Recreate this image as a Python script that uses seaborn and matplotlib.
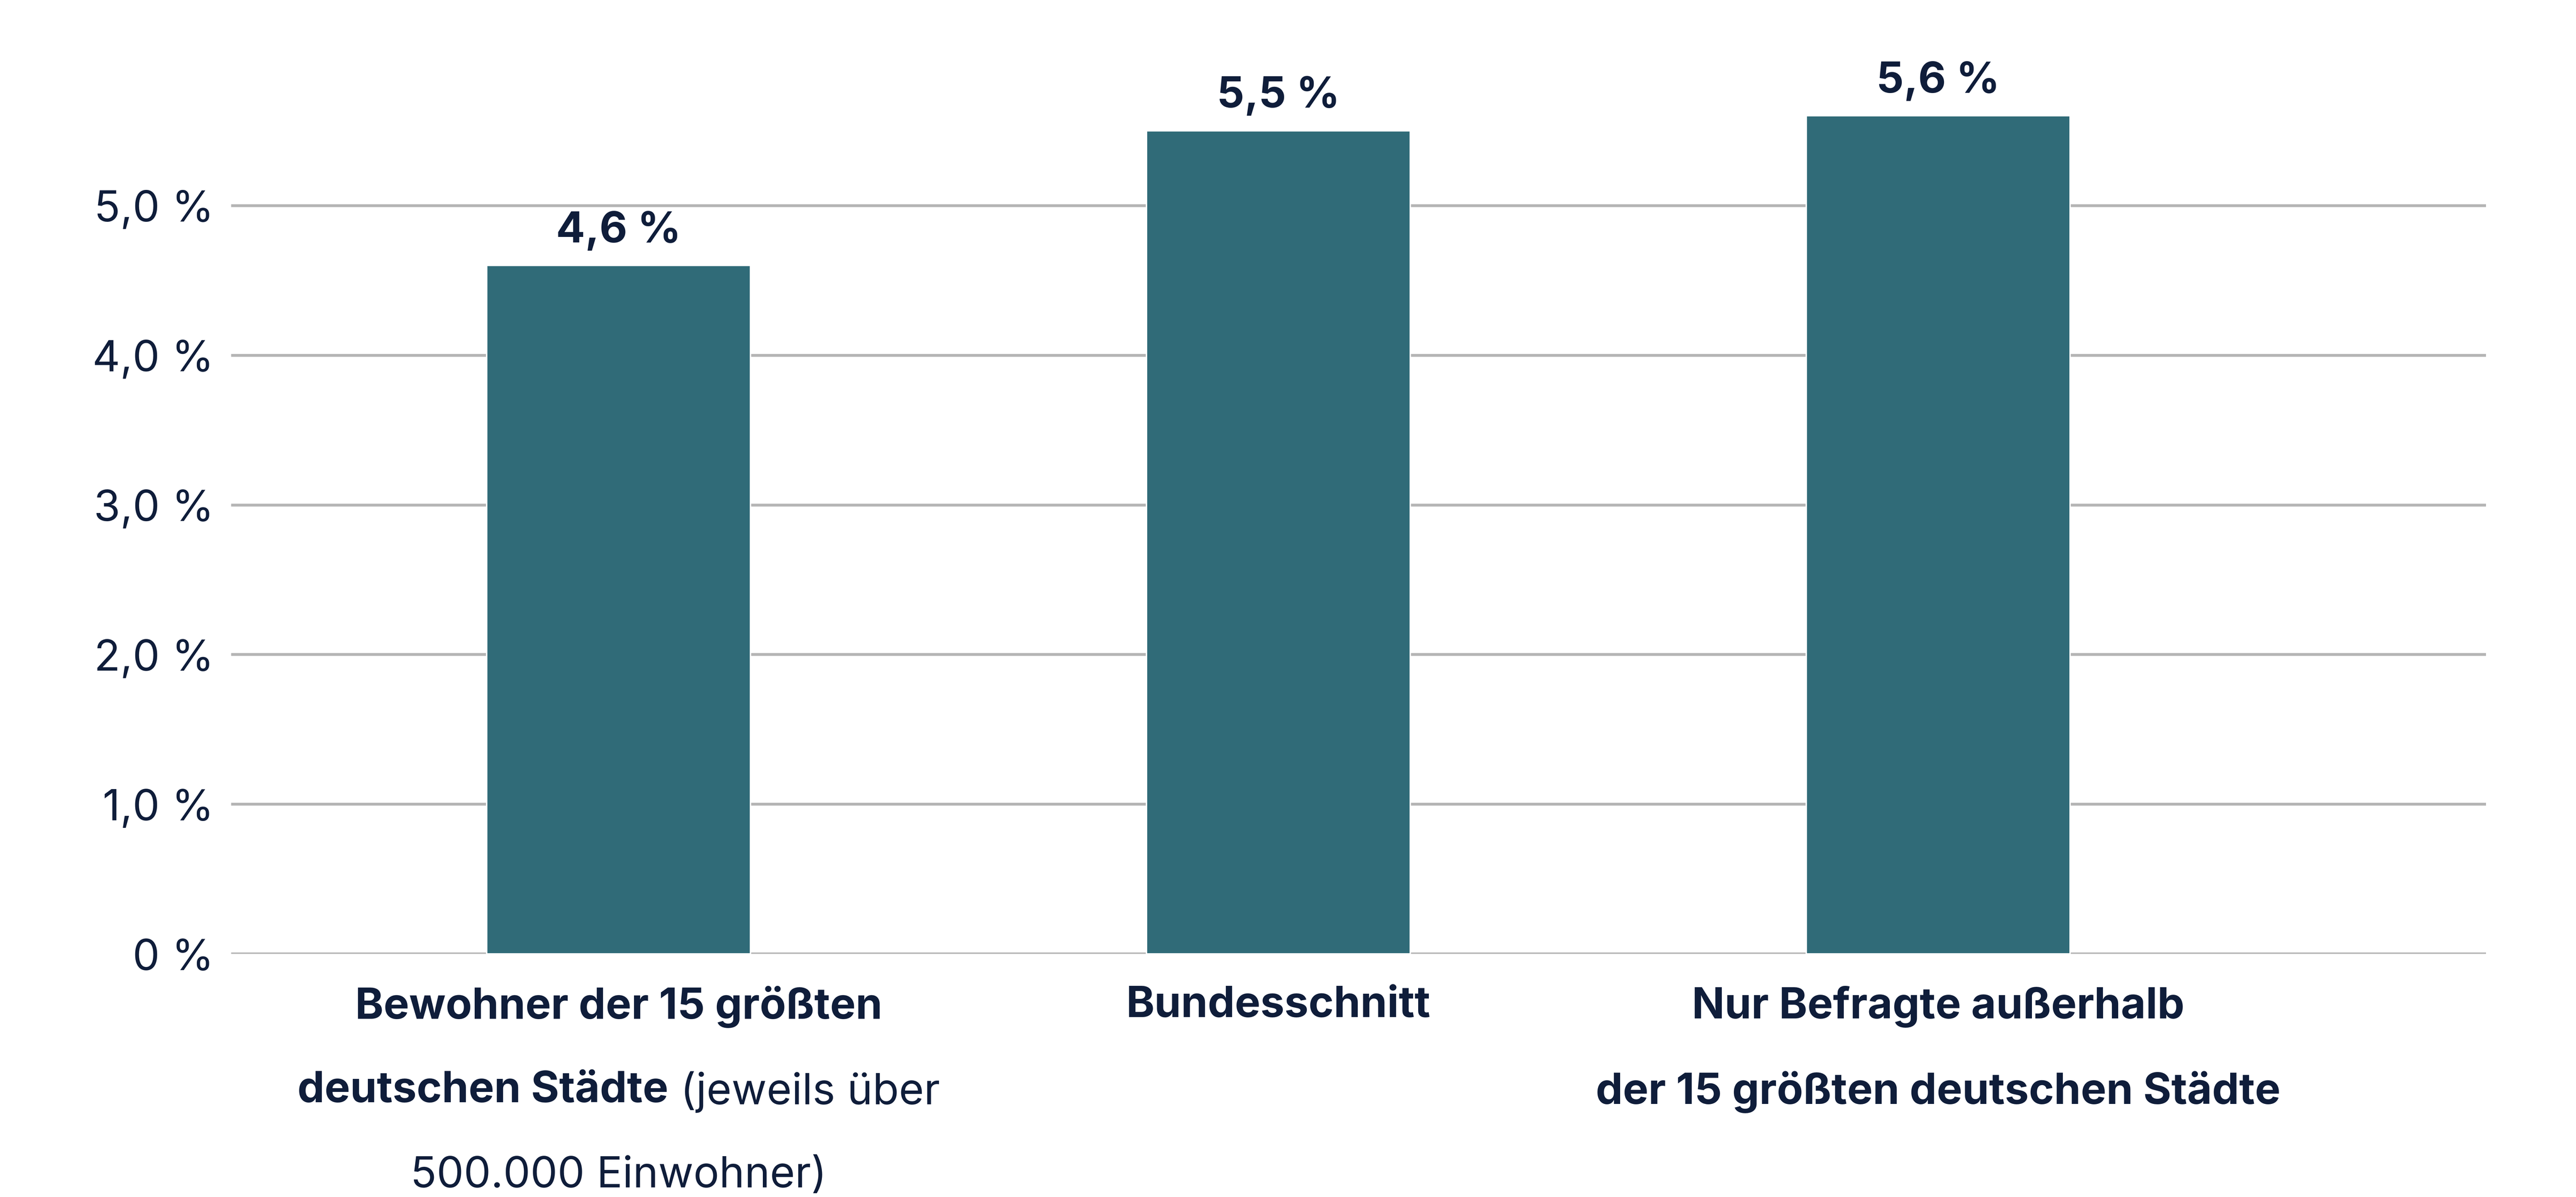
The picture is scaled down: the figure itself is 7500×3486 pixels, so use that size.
import matplotlib
matplotlib.use("Agg")
import matplotlib.pyplot as plt
import seaborn as sns
import pandas as pd

categories = ["Bewohner", "Bundesschnitt", "Nur Befragte"]
values = [4.6, 5.5, 5.6]
value_labels = ["4,6 %", "5,5 %", "5,6 %"]
yticks = [0, 1, 2, 3, 4, 5]
ytick_labels = ["0 %", "1,0 %", "2,0 %", "3,0 %", "4,0 %", "5,0 %"]

sns.set_theme(style="white")
plt.rcParams['font.family'] = ['Inter', 'DejaVu Sans']
navy = "#0f1d3a"
barc = "#306b78"

fig = plt.figure(figsize=(25, 11.623), dpi=300)
ax = fig.add_axes([0.0897, 0.203, 0.965 - 0.0897, 0.75])
df = pd.DataFrame({"cat": categories, "val": values})
sns.barplot(data=df, x="cat", y="val", color=barc, width=0.4, ax=ax, saturation=1)
ax.set_xlim(-0.5875, 2.83)
ax.set_ylim(0, 6.0)
ax.set_yticks(yticks)
ax.set_yticklabels(ytick_labels, fontsize=30, color=navy)
ax.yaxis.grid(True, color="#b5b5b5", linewidth=2)
ax.set_axisbelow(True)
for s in ax.spines.values():
    s.set_visible(False)
ax.tick_params(axis="y", length=0, pad=12)
ax.set_xticks([])
ax.set_xlabel(""); ax.set_ylabel("")
for i, (v, l) in enumerate(zip(values, value_labels)):
    ax.text(i, v + 0.1, l, ha="center", va="bottom", fontsize=30, fontweight="bold", color=navy)

trans = ax.get_xaxis_transform()
fs = 30
def line(x, y, parts):
    r = fig.canvas.get_renderer()
    texts = [ax.text(0, y, t, fontsize=fs, fontweight=w, color=navy, transform=trans, va="top") for t, w in parts]
    widths = [t.get_window_extent(r).width for t in texts]
    total = sum(widths)
    x0 = ax.transData.transform((x, 0))[0] - total / 2
    inv = ax.transData.inverted()
    for t, wd in zip(texts, widths):
        t.set_x(inv.transform((x0, 0))[0]); x0 += wd
        t.set_ha("left")

lh = 0.095
y0 = -0.035
line(0, y0, [("Bewohner der 15 größten", "bold")])
line(0, y0 - lh, [("deutschen Städte", "bold"), (" (jeweils über", "normal")])
line(0, y0 - 2 * lh, [("500.000 Einwohner)", "normal")])
line(1, y0, [("Bundesschnitt", "bold")])
line(2, y0, [("Nur Befragte außerhalb", "bold")])
line(2, y0 - lh, [("der 15 größten deutschen Städte", "bold")])
fig.savefig("out.png", dpi=300, facecolor="white")
